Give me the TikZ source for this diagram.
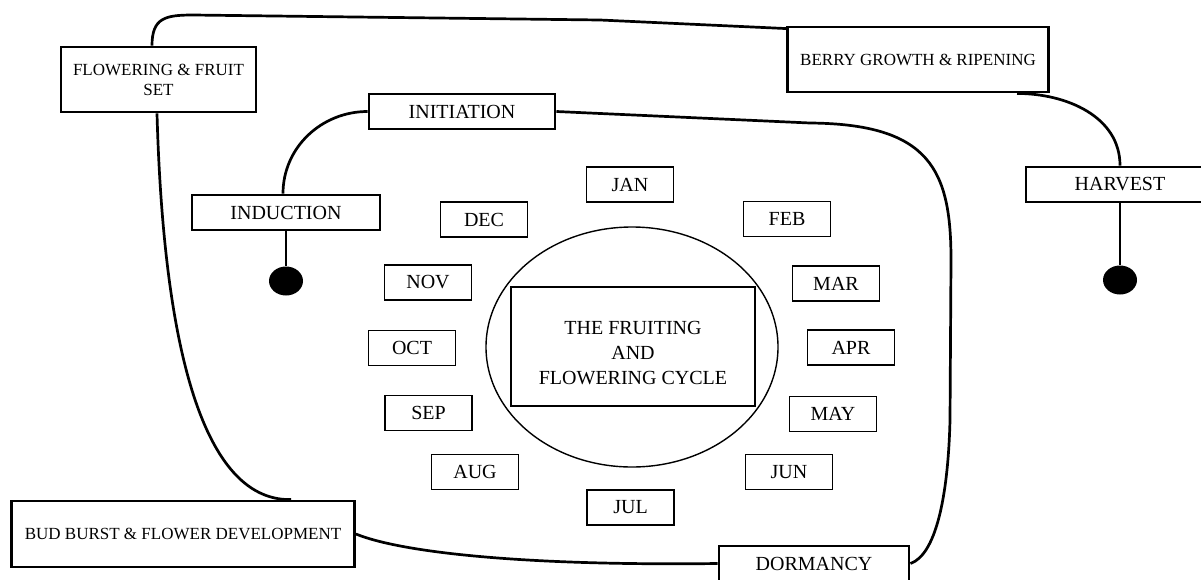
\documentclass[tikz,border=0pt]{standalone}
\usepackage{fontspec}
\setmainfont{Liberation Serif}
\usetikzlibrary{shapes.geometric}

\begin{document}
\begin{tikzpicture}[
    % One unit is one pixel of the sheet; y runs downwards.
    x={(1pt,0pt)},
    y={(0pt,-1pt)}
]
    % --- Style Definitions ---
    % 'phase' boxes are thick, 'stage' boxes are the taller two-line ones,
    % 'month' boxes are thin.
    \tikzstyle{phase} = [draw, line width=2.9pt, inner sep=0pt, minimum height=35pt, font=\fontsize{20}{25}\selectfont]
    \tikzstyle{stage} = [phase, minimum height=65pt, align=center, font=\fontsize{17}{20}\selectfont]
    \tikzstyle{month} = [draw, line width=1.5pt, inner sep=0pt, minimum width=87pt, minimum height=35pt, font=\fontsize{20}{25}\selectfont]
    \tikzstyle{link} = [draw, line width=2.7pt]
    \tikzstyle{dot} = [ellipse, fill=black, inner sep=0pt, minimum width=34pt, minimum height=29pt]

    % --- Sheet ---
    \useasboundingbox (0,0) rectangle (1201,579);
    \clip (0,0) rectangle (1201,579);

    % --- Centre ---
    \node[draw, ellipse, line width=1.4pt, inner sep=0pt, minimum width=292pt, minimum height=240pt] (ring) at (632,347) {};
    \node[phase, minimum width=244pt, minimum height=119pt, align=center] (core) at (633,346.5) {\rule{0pt}{27pt}THE FRUITING\\AND\\FLOWERING CYCLE};

    % --- Months ---
    \node[month] (jan) at (630,184.5) {JAN};
    \node[month] (feb) at (787,219) {FEB};
    \node[month] (mar) at (836,283.5) {MAR};
    \node[month] (apr) at (851,347.5) {APR};
    \node[month] (may) at (833,414) {MAY};
    \node[month] (jun) at (789,472) {JUN};
    \node[month] (jul) at (630.5,507.5) {JUL};
    \node[month] (aug) at (475,472) {AUG};
    \node[month] (sep) at (428.5,413) {SEP};
    \node[month] (oct) at (412,348) {OCT};
    \node[month] (nov) at (428,282.5) {NOV};
    \node[month] (dec) at (484,219.5) {DEC};

    % --- Stages ---
    \node[stage, minimum width=195pt] (flower) at (158.5,79.5) {FLOWERING \& FRUIT\\SET};
    \node[stage, minimum width=261pt] (berry) at (918,59.5) {BERRY GROWTH \& RIPENING};
    \node[stage, minimum width=343pt, minimum height=66pt] (bud) at (183,534) {BUD BURST \& FLOWER DEVELOPMENT};
    \node[phase, minimum width=186pt] (init) at (462,111.5) {INITIATION};
    \node[phase, minimum width=188pt] (induct) at (286,212.5) {INDUCTION};
    \node[phase, minimum width=188pt] (harvest) at (1120,184.5) {HARVEST};
    \node[phase, minimum width=190pt] (dorm) at (814,563.5) {DORMANCY};

    % --- End dots ---
    \node[dot] (dotL) at (286,281) {};
    \node[dot] (dotR) at (1120,280) {};

    % --- Connectors ---
    \draw[link] ([xshift=-6.5pt]flower.north) .. controls (152,18) and (165,15) .. (193,15) -- (600,20) -- ([yshift=-3pt]berry.north west);
    \draw[link] ([xshift=-1.5pt]flower.south) .. controls (165,400) and (220,501) .. ([xshift=108pt]bud.north);
    \draw[link] (bud.east) .. controls (400,552) and (520,566) .. (dorm.west);
    \draw[link] (dorm.east) .. controls (935,555) and (948,500) .. (950,420) -- (951,260) .. controls (951,170) and (930,124) .. (810,123) -- (init.east);
    \draw[link] ([xshift=-3pt]induct.north) to[out=90,in=180] (init.west);
    \draw[link] (induct.south) -- (dotL);
    \draw[link] ([xshift=99pt]berry.south) to[out=0,in=90] (harvest.north);
    \draw[link] (harvest.south) -- (dotR);
\end{tikzpicture}
\end{document}
